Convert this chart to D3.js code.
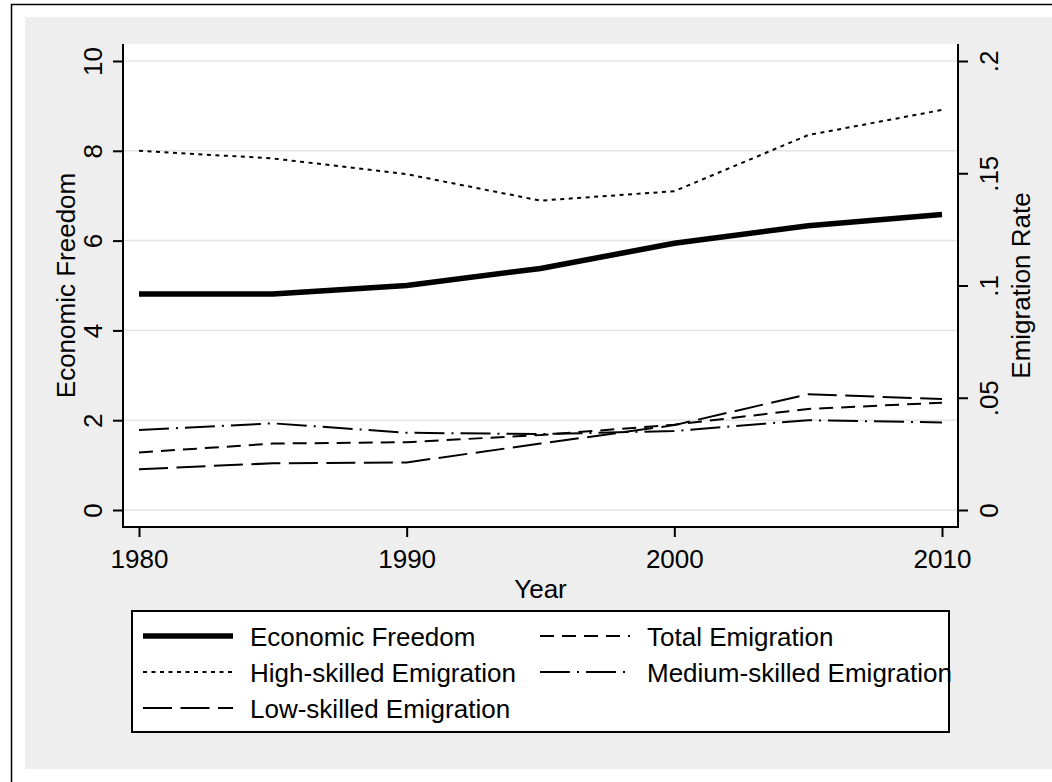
<!DOCTYPE html>
<html>
<head>
<meta charset="utf-8">
<script src="https://cdn.jsdelivr.net/npm/d3@7.9.0/dist/d3.min.js"></script>
<style>
  body { margin: 0; background: #fff; }
  svg text { font-family: "Liberation Sans", Arial, sans-serif; fill: #000; }
</style>
</head>
<body>
<svg id="chart" width="1052" height="782"></svg>
<script>
// data
const years = [1980, 1985, 1990, 1995, 2000, 2005, 2010];
const econFreedom = [4.81, 4.81, 5.0, 5.38, 5.94, 6.33, 6.58];
const highSkilled = [0.160, 0.1566, 0.1496, 0.1378, 0.142, 0.167, 0.1782];
const totalEmig = [0.0256, 0.0296, 0.0302, 0.0334, 0.038, 0.045, 0.0478];
const mediumSkilled = [0.0356, 0.0386, 0.0344, 0.0338, 0.0352, 0.0400, 0.0390];
const lowSkilled = [0.0182, 0.0208, 0.0212, 0.0296, 0.0378, 0.0516, 0.0494];

const xTicks = [1980, 1990, 2000, 2010];
const leftTicks = [0, 2, 4, 6, 8, 10];
const rightTicks = [0, 0.05, 0.1, 0.15, 0.2];

const series = [
  { label: 'Economic Freedom', values: econFreedom, axis: 'left', width: 5.5, dash: null },
  { label: 'Total Emigration', values: totalEmig, axis: 'right', width: 2, dash: '14,8' },
  { label: 'High-skilled Emigration', values: highSkilled, axis: 'right', width: 2, dash: '4,4.5' },
  { label: 'Medium-skilled Emigration', values: mediumSkilled, axis: 'right', width: 2, dash: '30,7,2,7' },
  { label: 'Low-skilled Emigration', values: lowSkilled, axis: 'right', width: 2, dash: '29,8.5' },
];

const svg = d3.select('#chart');
const plot = { left: 123, right: 958, top: 44, bottom: 527 };

const x = d3.scaleLinear().domain([1980, 2010]).range([139, 942]);
const yL = d3.scaleLinear().domain([0, 10]).range([510, 61]);
const yR = d3.scaleLinear().domain([0, 0.2]).range([510, 61]);

// outer frame + graph region
svg.append('rect').attr('x', 11.5).attr('y', 4.5).attr('width', 1100).attr('height', 900)
  .attr('fill', '#fff').attr('stroke', '#000').attr('stroke-width', 1.5);
svg.append('rect').attr('x', 25).attr('y', 17).attr('width', 1100).attr('height', 752)
  .attr('fill', '#eeeeee');
svg.append('rect').attr('x', plot.left).attr('y', plot.top)
  .attr('width', plot.right - plot.left).attr('height', plot.bottom - plot.top)
  .attr('fill', '#fff');

// gridlines
svg.append('g').selectAll('line').data(leftTicks).join('line')
  .attr('x1', plot.left).attr('x2', plot.right)
  .attr('y1', d => yL(d)).attr('y2', d => yL(d))
  .attr('stroke', '#e4e4e4').attr('stroke-width', 1.5);

// series
series.forEach(s => {
  const y = s.axis === 'left' ? yL : yR;
  const line = d3.line().x((d, i) => x(years[i])).y(d => y(d));
  svg.append('path').datum(s.values)
    .attr('d', line)
    .attr('fill', 'none')
    .attr('stroke', '#000')
    .attr('stroke-width', s.width)
    .attr('stroke-dasharray', s.dash)
    .attr('stroke-linejoin', 'miter');
});

// axes
function styleAxis(g) {
  g.select('.domain').remove();
  g.selectAll('.tick line').attr('stroke', '#000').attr('stroke-width', 2);
  g.selectAll('.tick text').attr('font-size', 26).attr('font-family', '"Liberation Sans", Arial, sans-serif');
}

const fmtRight = d => d === 0 ? '0' : String(d).replace(/^0/, '');

svg.append('g').attr('transform', `translate(0,${plot.bottom})`)
  .call(d3.axisBottom(x).tickValues(xTicks).tickFormat(d3.format('d')).tickSize(10))
  .call(styleAxis)
  .call(g => g.selectAll('.tick text').attr('y', 0).attr('dy', 0).attr('transform', 'translate(0,41)'));

svg.append('g').attr('transform', `translate(${plot.left},0)`)
  .call(d3.axisLeft(yL).tickValues(leftTicks).tickSize(10))
  .call(styleAxis)
  .call(g => g.selectAll('.tick text')
    .attr('x', 0).attr('y', -21).attr('dy', 0)
    .attr('text-anchor', 'middle').attr('transform', 'rotate(-90)'));

svg.append('g').attr('transform', `translate(${plot.right},0)`)
  .call(d3.axisRight(yR).tickValues(rightTicks).tickFormat(fmtRight).tickSize(10))
  .call(styleAxis)
  .call(g => g.selectAll('.tick text')
    .attr('x', 0).attr('y', 40).attr('dy', 0)
    .attr('text-anchor', 'middle').attr('transform', 'rotate(-90)'));

// axis lines
svg.append('path')
  .attr('d', `M${plot.left},${plot.top}V${plot.bottom}H${plot.right}V${plot.top}`)
  .attr('fill', 'none').attr('stroke', '#000').attr('stroke-width', 2);

// axis titles
svg.append('text').attr('x', (plot.left + plot.right) / 2).attr('y', 598)
  .attr('text-anchor', 'middle').attr('font-size', 26).text('Year');
svg.append('text').attr('transform', `translate(75,${(plot.top + plot.bottom) / 2}) rotate(-90)`)
  .attr('text-anchor', 'middle').attr('font-size', 26).text('Economic Freedom');
svg.append('text').attr('transform', `translate(1030,${(plot.top + plot.bottom) / 2}) rotate(-90)`)
  .attr('text-anchor', 'middle').attr('font-size', 26).text('Emigration Rate');

// legend
const legend = svg.append('g');
legend.append('rect').attr('x', 132).attr('y', 611).attr('width', 817).attr('height', 121)
  .attr('fill', '#fff').attr('stroke', '#000').attr('stroke-width', 2);

const colX = [143, 540];
const keyLen = 90;
series.forEach((s, i) => {
  const col = i % 2, row = Math.floor(i / 2);
  const ly = 636 + row * 36;
  legend.append('line')
    .attr('x1', colX[col]).attr('x2', colX[col] + keyLen)
    .attr('y1', ly).attr('y2', ly)
    .attr('stroke', '#000').attr('stroke-width', s.width)
    .attr('stroke-dasharray', s.dash);
  legend.append('text')
    .attr('x', colX[col] + keyLen + 17).attr('y', ly + 9.5)
    .attr('font-size', 26).text(s.label);
});
</script>
</body>
</html>
